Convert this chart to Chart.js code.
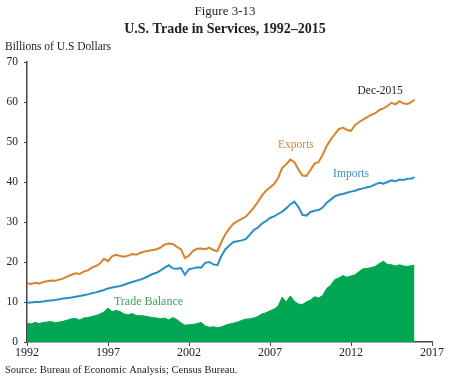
<!DOCTYPE html>
<html>
<head>
<meta charset="utf-8">
<script src="https://cdn.jsdelivr.net/npm/chart.js@4/dist/chart.umd.min.js"></script>
<style>
html,body{margin:0;padding:0;background:#fff;}
#wrap{position:relative;width:450px;height:380px;}
</style>
</head>
<body>
<div id="wrap"><canvas id="c" width="450" height="380"></canvas></div>
<script>
// Quarterly readings (Q1 1992 ... Q4 2015) plus a final Dec-2015 reading
const startYear = 1992;
const xTickLabels = [1992, 1997, 2002, 2007, 2012, 2017];
const exportsData = [
  14.7,14.5,14.8,14.6, 15.0,15.2,15.4,15.3, 15.6,15.9,16.4,16.8, 17.2,17.0,17.6,17.9,
  18.6,19.0,19.6,20.8, 20.2,21.4,21.8,21.5, 21.3,21.6,22.0,21.8, 22.3,22.6,22.8,23.0,
  23.2,23.6,24.4,24.6, 24.5,23.8,23.2,21.0, 21.6,22.8,23.3,23.4, 23.2,23.6,23.0,22.7,
  25.0,27.0,28.4,29.6, 30.2,30.8,31.3,32.4, 33.6,35.0,36.6,37.8, 38.6,39.5,41.0,43.5,
  44.4,45.6,45.0,43.2, 41.6,41.5,43.0,44.6, 45.0,46.8,49.0,50.6, 52.0,53.2,53.6,53.0,
  52.8,54.2,55.0,55.6, 56.2,56.8,57.2,58.0, 58.4,59.0,59.8,59.4, 60.2,59.6,59.5,60.0,
  60.6
];
const importsData = [
  9.8,9.9,10.0,10.0, 10.1,10.3,10.4,10.5, 10.7,10.9,11.0,11.1, 11.3,11.5,11.7,11.9,
  12.2,12.4,12.7,13.0, 13.4,13.6,13.8,14.0, 14.3,14.7,15.0,15.3, 15.6,16.0,16.5,17.0,
  17.3,17.9,18.6,19.2, 18.4,18.3,18.5,16.8, 18.2,18.4,18.7,18.6, 19.8,20.0,19.4,19.2,
  21.5,23.2,24.2,25.0, 25.2,25.4,25.7,26.8, 28.0,28.6,29.6,30.2, 31.0,31.4,32.0,32.6,
  33.4,34.4,35.1,33.8, 31.8,31.6,32.5,32.8, 33.0,33.6,34.8,35.6, 36.4,36.8,37.0,37.3,
  37.6,37.8,38.2,38.4, 38.7,38.9,39.4,39.8, 39.6,40.0,40.4,40.2, 40.6,40.5,40.8,40.9,
  41.2
];
const balanceData = [
  4.7,4.5,4.9,4.6, 4.9,5.0,5.1,4.8, 5.0,5.2,5.5,5.8, 5.9,5.5,6.0,6.1,
  6.4,6.6,7.0,7.5, 8.5,7.6,7.9,7.6, 7.0,6.8,7.1,6.6, 6.6,6.5,6.3,6.1,
  6.0,5.8,6.0,5.5, 6.1,5.6,4.8,4.2, 4.3,4.4,4.6,4.9, 4.0,3.7,3.8,3.6,
  3.8,4.2,4.5,4.7, 5.0,5.4,5.7,5.8, 6.0,6.4,7.0,7.3, 7.8,8.2,9.0,11.2,
  10.0,11.5,10.2,9.5, 9.4,10.0,10.5,11.3, 11.0,11.6,13.4,14.2, 15.6,16.0,16.6,16.2,
  16.5,16.8,17.6,18.3, 18.4,18.6,18.9,19.6, 20.2,19.4,19.3,19.0, 19.3,19.0,18.9,19.1,
  19.2
];
// period positions in months since Jan 1992 (quarters, then Dec-2015)
const monthOffsets = exportsData.map((_, i) => i < exportsData.length - 1 ? i * 3 : 287);
const toPts = arr => arr.map((v, i) => ({x: startYear + monthOffsets[i] / 12, y: v}));

const serif = "'Liberation Serif', 'Times New Roman', serif";

const textPlugin = {
  id: 'texts',
  afterDraw(chart) {
    const ctx = chart.ctx;
    const xs = chart.scales.x, ys = chart.scales.y;
    ctx.save();
    ctx.textBaseline = 'middle';
    ctx.textAlign = 'center';
    ctx.fillStyle = '#222';
    ctx.font = "13px " + serif;
    ctx.fillText('Figure 3-13', 225, 12);
    ctx.font = "bold 14px " + serif;
    ctx.fillText('U.S. Trade in Services, 1992–2015', 225, 29);
    ctx.textAlign = 'left';
    ctx.font = "11.5px " + serif;
    ctx.fillText('Billions of U.S Dollars', 5, 47);
    ctx.font = "10.5px " + serif;
    ctx.fillText('Source: Bureau of Economic Analysis; Census Bureau.', 5, 370);
    ctx.textAlign = 'center';
    ctx.font = "11.5px " + serif;
    ctx.fillStyle = '#c98a4e';
    ctx.fillText('Exports', xs.getPixelForValue(2008.6), ys.getPixelForValue(49.2));
    ctx.fillStyle = '#3a8fc0';
    ctx.fillText('Imports', xs.getPixelForValue(2012.0), ys.getPixelForValue(42));
    ctx.fillStyle = '#222';
    ctx.fillText('Dec-2015', xs.getPixelForValue(2013.8), ys.getPixelForValue(62.7));
    ctx.font = "12px " + serif;
    ctx.fillStyle = '#3f9e63';
    ctx.fillText('Trade Balance', xs.getPixelForValue(1999.5), ys.getPixelForValue(10));
    ctx.restore();
  }
};

new Chart(document.getElementById('c'), {
  type: 'line',
  data: {
    datasets: [
      {label: 'Exports', data: toPts(exportsData), borderColor: '#d9822b', borderWidth: 2, pointRadius: 0, tension: 0, fill: false, order: 1},
      {label: 'Imports', data: toPts(importsData), borderColor: '#2a8fc6', borderWidth: 2, pointRadius: 0, tension: 0, fill: false, order: 2},
      {label: 'Trade Balance', data: toPts(balanceData), borderColor: '#00a651', backgroundColor: '#00a651', borderWidth: 1, pointRadius: 0, tension: 0, fill: 'origin', order: 3}
    ]
  },
  options: {
    responsive: false,
    animation: false,
    events: [],
    layout: {padding: {top: 62, right: 18, bottom: 18, left: 0}},
    plugins: {legend: {display: false}, tooltip: {enabled: false}, title: {display: false}},
    scales: {
      x: {
        type: 'linear', min: 1992, max: 2017,
        afterBuildTicks: s => { s.ticks = xTickLabels.map(v => ({value: v})); },
        afterFit: s => { s.height = 20; },
        grid: {display: true, drawOnChartArea: false, drawTicks: true, tickLength: 4, color: '#444'},
        border: {display: true, color: '#444', width: 1.5},
        ticks: {font: {family: serif, size: 12}, color: '#222', padding: 0, maxRotation: 0, callback: v => String(v)}
      },
      y: {
        min: 0, max: 70,
        ticks: {stepSize: 10, font: {family: serif, size: 11.5}, color: '#222', padding: 6},
        afterFit: s => { s.width = 27; },
        grid: {display: true, drawOnChartArea: false, drawTicks: true, tickLength: 3, color: '#444'},
        border: {display: true, color: '#444', width: 1.5}
      }
    }
  },
  plugins: [textPlugin]
});
</script>
</body>
</html>
